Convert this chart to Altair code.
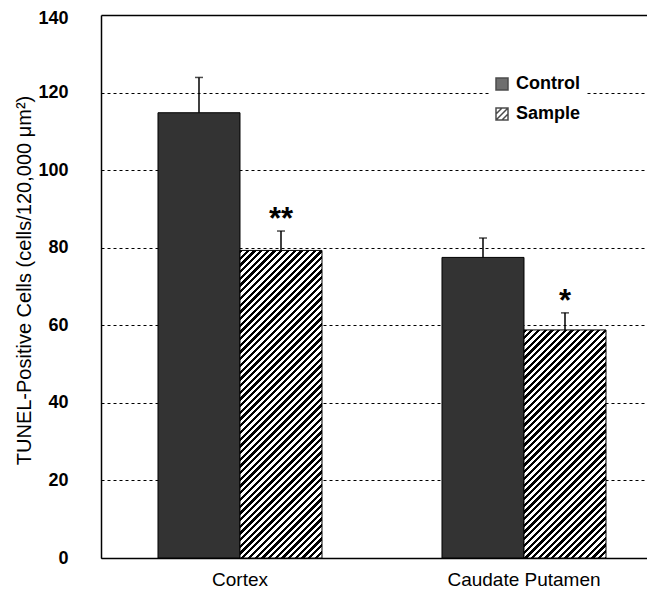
import altair as alt
import pandas as pd

regions = ["Cortex", "Cortex", "Caudate Putamen", "Caudate Putamen"]
series = ["Control", "Sample", "Control", "Sample"]
means = [114.8, 79.3, 77.5, 58.8]
errors = [9.1, 5.0, 5.0, 4.4]
stars = ["", "**", "", "*"]

region_order = ["Cortex", "Caudate Putamen"]
series_order = ["Control", "Sample"]
y_ticks = [0, 20, 40, 60, 80, 100, 120, 140]

df = pd.DataFrame({
    "region": regions,
    "series": series,
    "mean": means,
    "err": errors,
    "star": stars,
})
df["upper"] = df["mean"] + df["err"]
df["half"] = df["mean"] / 2

W, H = 546, 543
YMAX = 140
STEP_PI, STEP_PO, ALIGN = 0.42254, 0.17254, 0.5816
step = W / (2 - STEP_PI + 2 * STEP_PO)
bar_w = step * (1 - STEP_PI) / 2

FONT = "Liberation Sans"


def hatch(value, period=6.7, frac=0.5):
    h = value * H / YMAX
    w = bar_w
    r = h / w
    s = (1 + r) / (1 + r * r)
    n = (w + h) / period
    stops = []
    k = 0
    while k / n < 1:
        a = k / n
        b = min((k + frac) / n, 1)
        c = min((k + 1) / n, 1)
        stops += [
            {"offset": a, "color": "black"},
            {"offset": b, "color": "black"},
            {"offset": b, "color": "white"},
            {"offset": c, "color": "white"},
        ]
        k += 1
    return {"gradient": "linear", "stops": stops, "x1": 0, "y1": 0, "x2": s, "y2": s * r}


x_enc = alt.X(
    "region:N",
    sort=region_order,
    scale=alt.Scale(domain=region_order, paddingInner=STEP_PI, paddingOuter=STEP_PO, align=ALIGN),
    axis=alt.Axis(
        title=None, labelAngle=0, ticks=False, labelFont=FONT, labelFontSize=19,
        labelColor="black", labelPadding=12, domainColor="black",
        domainWidth=1.5,
    ),
)
xo_enc = alt.XOffset("series:N", scale=alt.Scale(domain=series_order, paddingInner=0, paddingOuter=0))
y_scale = alt.Scale(domain=[0, YMAX], nice=False)
y_axis = alt.Axis(
    title="TUNEL-Positive Cells (cells/120,000  μm²)",
    values=y_ticks,
    ticks=False,
    labelFont=FONT, labelFontSize=18, labelFontWeight="bold", labelColor="black",
    labelPadding=33,
    labelOffset={"condition": {"test": "datum.value === 140", "value": 3}, "value": 0},
    titleFont=FONT, titleFontSize=20, titleFontWeight="normal", titleColor="black",
    titleX=-77, titleY=265, titleAngle=-90, titleAlign="center", titleBaseline="middle",
    grid=True, gridColor="black",
    gridDash={"condition": {"test": "datum.value === 140", "value": [1, 0]}, "value": [3, 3]},
    gridWidth={"condition": {"test": "datum.value === 140", "value": 1.5}, "value": 1},
    domainColor="black", domainWidth=1.5,
)

base = alt.Chart(df)

legend_layer = base.mark_point(filled=True, stroke="black", strokeWidth=1).encode(
    x=x_enc,
    xOffset=xo_enc,
    y=alt.Y("half:Q", scale=y_scale, axis=y_axis),
    color=alt.Color(
        "series:N",
        scale=alt.Scale(domain=series_order, range=["#333333", "white"]),
        legend=alt.Legend(
            title=None, orient="none", legendX=388, legendY=56,
            labelFont=FONT, labelFontSize=18, labelFontWeight="bold", labelColor="black",
            symbolSize=144, symbolStrokeColor="black", symbolStrokeWidth=1.5,
            rowPadding=12, labelOffset=5, fillColor="white", padding=4,
        ),
    ),
    shape=alt.Shape(
        "series:N",
        scale=alt.Scale(
            domain=series_order,
            range=["M-1,-1H1V1H-1Z", "M-1,-1H1V1H-1Z M-1,0L0,-1 M-1,1L1,-1 M0,1L1,0"],
        ),
        legend=alt.Legend(title=None),
    ),
)

layers = [legend_layer]

layers.append(
    base.transform_filter(alt.datum.series == "Control").mark_bar(
        fill="#333333", stroke="black", strokeWidth=1
    ).encode(x=x_enc, xOffset=xo_enc, y=alt.Y("mean:Q", scale=y_scale))
)

for reg, ser, m in zip(regions, series, means):
    if ser != "Sample":
        continue
    layers.append(
        base.transform_filter(
            (alt.datum.series == "Sample") & (alt.datum.region == reg)
        ).mark_bar(fill=hatch(m), stroke="black", strokeWidth=1).encode(
            x=x_enc, xOffset=xo_enc, y=alt.Y("mean:Q", scale=y_scale)
        )
    )

layers.append(
    base.mark_rule(color="black", strokeWidth=1.5).encode(
        x=x_enc, xOffset=xo_enc, y=alt.Y("mean:Q", scale=y_scale), y2="upper:Q"
    )
)
layers.append(
    base.mark_tick(color="black", size=8, thickness=1.5, orient="horizontal").encode(
        x=x_enc, xOffset=xo_enc, y=alt.Y("upper:Q", scale=y_scale)
    )
)
layers.append(
    base.mark_text(font=FONT, fontSize=31, fontWeight="bold", color="black", baseline="alphabetic", dy=-2).encode(
        x=x_enc, xOffset=xo_enc, y=alt.Y("upper:Q", scale=y_scale), text="star:N"
    )
)

chart = alt.layer(*layers).properties(
    width=W, height=H,
    autosize=alt.AutoSizeParams(type="none"),
    padding={"left": 93, "top": 7, "right": 0, "bottom": 32},
).configure_view(stroke=None).configure(background="white")

chart.save("out.html", embed_options={"renderer": "svg", "actions": False})
